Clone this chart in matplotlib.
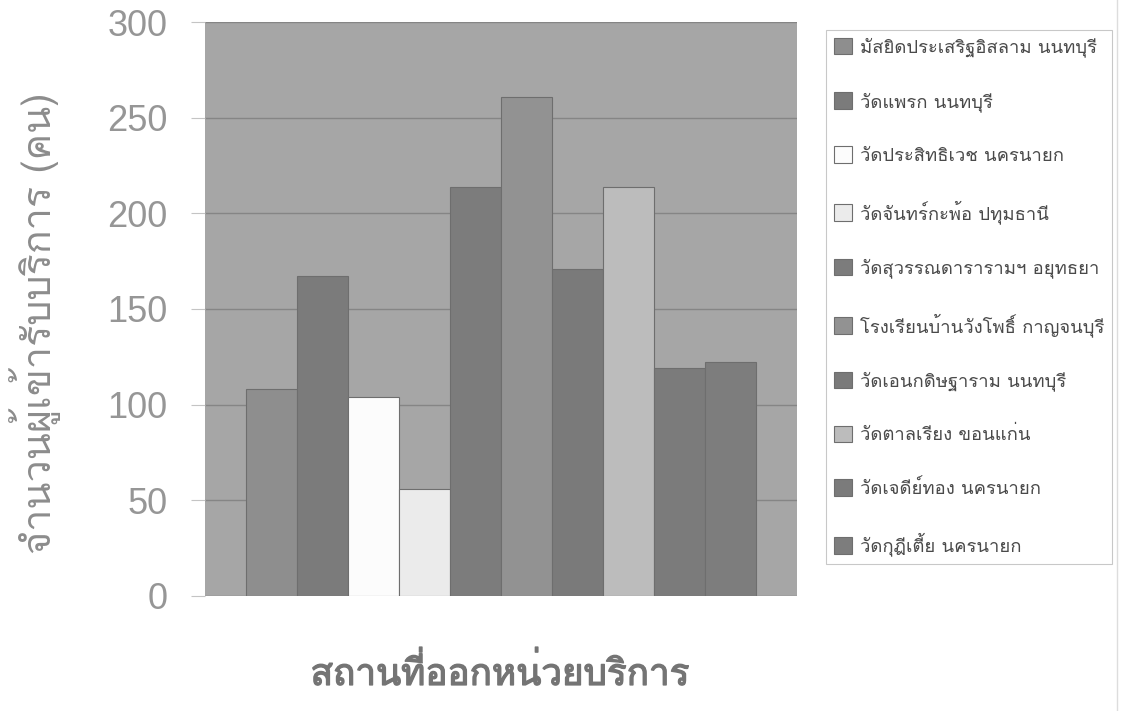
import matplotlib
matplotlib.use("Agg")
import matplotlib.pyplot as plt
import matplotlib.patheffects as pe

sites = [
    "มัสยิดประเสริฐอิสลาม นนทบุรี",
    "วัดแพรก นนทบุรี",
    "วัดประสิทธิเวช นครนายก",
    "วัดจันทร์กะพ้อ ปทุมธานี",
    "วัดสุวรรณดารารามฯ อยุทธยา",
    "โรงเรียนบ้านวังโพธิ์ กาญจนบุรี",
    "วัดเอนกดิษฐาราม นนทบุรี",
    "วัดตาลเรียง ขอนแก่น",
    "วัดเจดีย์ทอง นครนายก",
    "วัดกุฎีเตี้ย นครนายก",
]
patients = [108, 167, 104, 56, 214, 261, 171, 214, 119, 122]
bar_colors = ["#8e8e8e", "#7b7b7b", "#fcfcfc", "#ebebeb", "#7c7c7c",
              "#929292", "#7a7a7a", "#bcbcbc", "#7b7b7b", "#7d7d7d"]
yticks = [0, 50, 100, 150, 200, 250, 300]

plt.rcParams["font.family"] = ["Loma", "Liberation Sans", "DejaVu Sans"]

fig = plt.figure(figsize=(11.26, 7.11), dpi=100)
ax = fig.add_axes([0.182, 0.162, 0.526, 0.807])
ax.set_facecolor("#a6a6a6")

n = len(patients)
w = 1.0 / n * 0.86
x0 = -0.43
for i, (name, v, c) in enumerate(zip(sites, patients, bar_colors)):
    ax.bar(x0 + (i + 0.5) * w, v, width=w, color=c, edgecolor="#6e6e6e",
           linewidth=0.8, label=name, zorder=3)

ax.set_xlim(-0.5, 0.5)
ax.set_ylim(0, 300)
ax.set_yticks(yticks)
ax.set_xticks([])
ax.yaxis.grid(True, color="#858585", linewidth=1.0, zorder=1)
ax.tick_params(axis="y", labelsize=26, labelcolor="#969696", color="#c4c4c4",
               length=10, pad=17)
for t in ax.get_yticklabels():
    t.set_family("Liberation Sans")
for s in ax.spines.values():
    s.set_visible(False)

ax.set_ylabel("จำนวนผู้เข้ารับบริการ (คน)", fontsize=28.5, color="#8c8c8c")
ax.yaxis.set_label_coords(-0.243, 0.475)
xl = ax.set_xlabel("สถานที่ออกหน่วยบริการ", fontsize=26.5, color="#747474")
xl.set_path_effects([pe.withStroke(linewidth=1.0, foreground="#747474")])
ax.xaxis.set_label_coords(0.498, -0.103)

leg = ax.legend(loc="upper left", bbox_to_anchor=(1.049, 0.986), frameon=True,
                fontsize=13.3, labelspacing=1.88, handlelength=1.0,
                handleheight=1.0, handletextpad=0.45, borderpad=0.4,
                fancybox=False, borderaxespad=0)
leg.get_frame().set_edgecolor("#bbbbbb")
leg.get_frame().set_linewidth(0.8)
for t in leg.get_texts():
    t.set_color("#4a4a4a")

fig.add_artist(plt.Line2D([0.992, 0.992], [0, 1], color="#dddddd", linewidth=1.0))

fig.savefig("out.png", dpi=100)
